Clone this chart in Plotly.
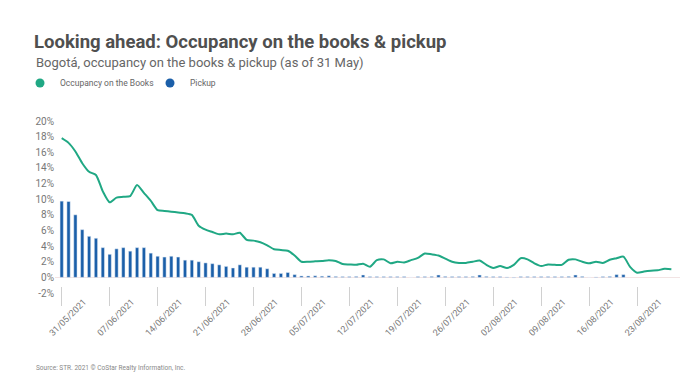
import pandas as pd
import plotly.graph_objects as go

start_date = "2021-05-31"

occupancy_books = [
    17.8, 17.2, 16.1, 14.6, 13.5, 13.1, 11.0, 9.6, 10.2, 10.3,
    10.4, 11.8, 10.8, 9.8, 8.6, 8.5, 8.4, 8.3, 8.2, 8.0,
    6.6, 6.1, 5.8, 5.5, 5.6, 5.5, 5.7, 4.8, 4.7, 4.5,
    4.1, 3.6, 3.5, 3.4, 2.8, 2.0, 2.0, 2.05, 2.1, 2.2,
    2.1, 1.7, 1.65, 1.6, 1.75, 1.35, 2.2, 2.3, 1.8, 2.0,
    1.9, 2.2, 2.5, 3.05, 2.95, 2.8, 2.4, 2.0, 1.85, 1.85,
    2.0, 2.15, 1.6, 1.2, 1.45, 1.2, 1.6, 2.45, 2.3, 1.8,
    1.45, 1.65, 1.6, 1.6, 2.25, 2.3, 2.0, 1.8, 2.0, 1.85,
    2.25, 2.45, 2.65, 1.3, 0.6, 0.75, 0.85, 0.9, 1.1, 1.05,
]

pickup = [
    9.75, 9.7, 8.0, 6.1, 5.25, 5.0, 3.8, 2.95, 3.65, 3.8,
    3.35, 3.8, 3.8, 3.1, 2.7, 2.6, 2.7, 2.6, 2.2, 2.2,
    2.0, 1.85, 1.75, 1.6, 1.4, 1.2, 1.6, 1.3, 1.3, 1.3,
    1.1, 0.5, 0.5, 0.62, 0.35, 0.18, 0.18, 0.2, 0.15, 0.2,
    0.12, 0.1, 0.1, 0.12, 0.3, 0.1, 0.1, 0.1, 0.1, 0.1,
    0.1, 0.0, 0.1, 0.1, 0.12, 0.3, 0.12, 0.1, 0.1, 0.1,
    0.12, 0.3, 0.12, 0.1, 0.1, 0.05, -0.05, 0.1, 0.1, 0.1,
    0.1, 0.1, 0.1, 0.1, 0.12, 0.3, 0.12, 0.0, 0.05, 0.1,
    0.12, 0.35, 0.35,
]

tick_labels = [
    "31/05/2021", "07/06/2021", "14/06/2021", "21/06/2021", "28/06/2021",
    "05/07/2021", "12/07/2021", "19/07/2021", "26/07/2021", "02/08/2021",
    "09/08/2021", "16/08/2021", "23/08/2021",
]

y_ticks = [-2, 0, 2, 4, 6, 8, 10, 12, 14, 16, 18, 20]
y_tick_text = ["-2%", "0%", "2%", "4%", "6%", "8%", "10%", "12%", "14%", "16%", "18%", "20%"]

GREEN = "#20a884"
BLUE = "#1b5fa9"
FONT = "Roboto, DejaVu Sans Condensed, sans-serif"

dates_line = pd.date_range(start_date, periods=len(occupancy_books), freq="D")
dates_bar = pd.date_range(start_date, periods=len(pickup), freq="D")
tick_vals = [pd.to_datetime(t, format="%d/%m/%Y") for t in tick_labels]

fig = go.Figure()
fig.add_trace(go.Bar(
    x=dates_bar, y=pickup, marker_color=BLUE, width=0.48 * 86400000,
    showlegend=False,
))
fig.add_trace(go.Scatter(
    x=dates_line, y=occupancy_books, mode="lines",
    line=dict(color=GREEN, width=2, shape="spline", smoothing=0.6),
    showlegend=False,
))
fig.add_trace(go.Scatter(x=[None], y=[None], mode="markers", name="Occupancy on the Books",
                         marker=dict(color=GREEN, size=9, symbol="circle")))
fig.add_trace(go.Scatter(x=[None], y=[None], mode="markers", name="Pickup",
                         marker=dict(color=BLUE, size=9, symbol="circle")))

x0 = pd.Timestamp(start_date) - pd.Timedelta(days=0.978)
x1 = pd.Timestamp(start_date) + pd.Timedelta(days=90.26)

# plot area: top y=121 (20%), bottom y=310 ; -2% at y=293
TOP, BOT = 121, 310
H = BOT - TOP

fig.update_layout(
    width=700, height=380,
    margin=dict(l=55, r=20, t=TOP, b=380 - BOT),
    plot_bgcolor="white", paper_bgcolor="white",
    font=dict(family=FONT, color="#777777", size=10),
    title=dict(
        text="<b>Looking ahead: Occupancy on the books & pickup</b>",
        x=34 / 700, xanchor="left", xref="container",
        y=1 - 42 / 380, yanchor="middle", yref="container",
        font=dict(family=FONT, size=18.5, color="#4f4f4f"),
    ),
    legend=dict(
        orientation="h", xref="container", yref="container",
        x=20 / 700, xanchor="left", y=1 - 83 / 380, yanchor="middle",
        font=dict(family=FONT, size=8.5, color="#666666"),
        itemwidth=30, entrywidth=85, entrywidthmode="pixels",
        bgcolor="rgba(0,0,0,0)",
    ),
    annotations=[
        dict(text="Bogotá, occupancy on the books & pickup (as of 31 May)",
             xref="paper", yref="paper", x=-21 / 625, y=1 + (TOP - 62) / H,
             xanchor="left", yanchor="middle", showarrow=False,
             font=dict(family=FONT, size=13, color="#666666")),
        dict(text="Source: STR. 2021 © CoStar Realty Information, Inc.",
             xref="paper", yref="paper", x=-21 / 625, y=-(368 - BOT) / H,
             xanchor="left", yanchor="middle", showarrow=False,
             font=dict(family=FONT, size=6.5, color="#888888")),
    ],
)

fig.update_yaxes(
    range=[-2, 20], domain=[(BOT - 293) / H, 1],
    tickvals=y_ticks, ticktext=y_tick_text,
    showgrid=False, zeroline=True, zerolinecolor="#f2e4e4", zerolinewidth=1,
    showline=False, ticks="", tickfont=dict(size=10, color="#777777"),
)
fig.update_xaxes(
    type="date", range=[x0, x1],
    tickvals=tick_vals, ticktext=tick_labels, tickangle=-45,
    anchor="free", position=(BOT - 306) / H,
    ticks="inside", ticklen=19, tickcolor="#d0d0d0", tickwidth=1,
    showgrid=False, showline=False, zeroline=False,
    ticklabelshift=22, ticklabelstandoff=-12,
    tickfont=dict(size=9, color="#777777"),
)

fig.write_html(
    "out.html",
    config={"displayModeBar": False},
    post_script="document.body.style.margin='0';",
)
